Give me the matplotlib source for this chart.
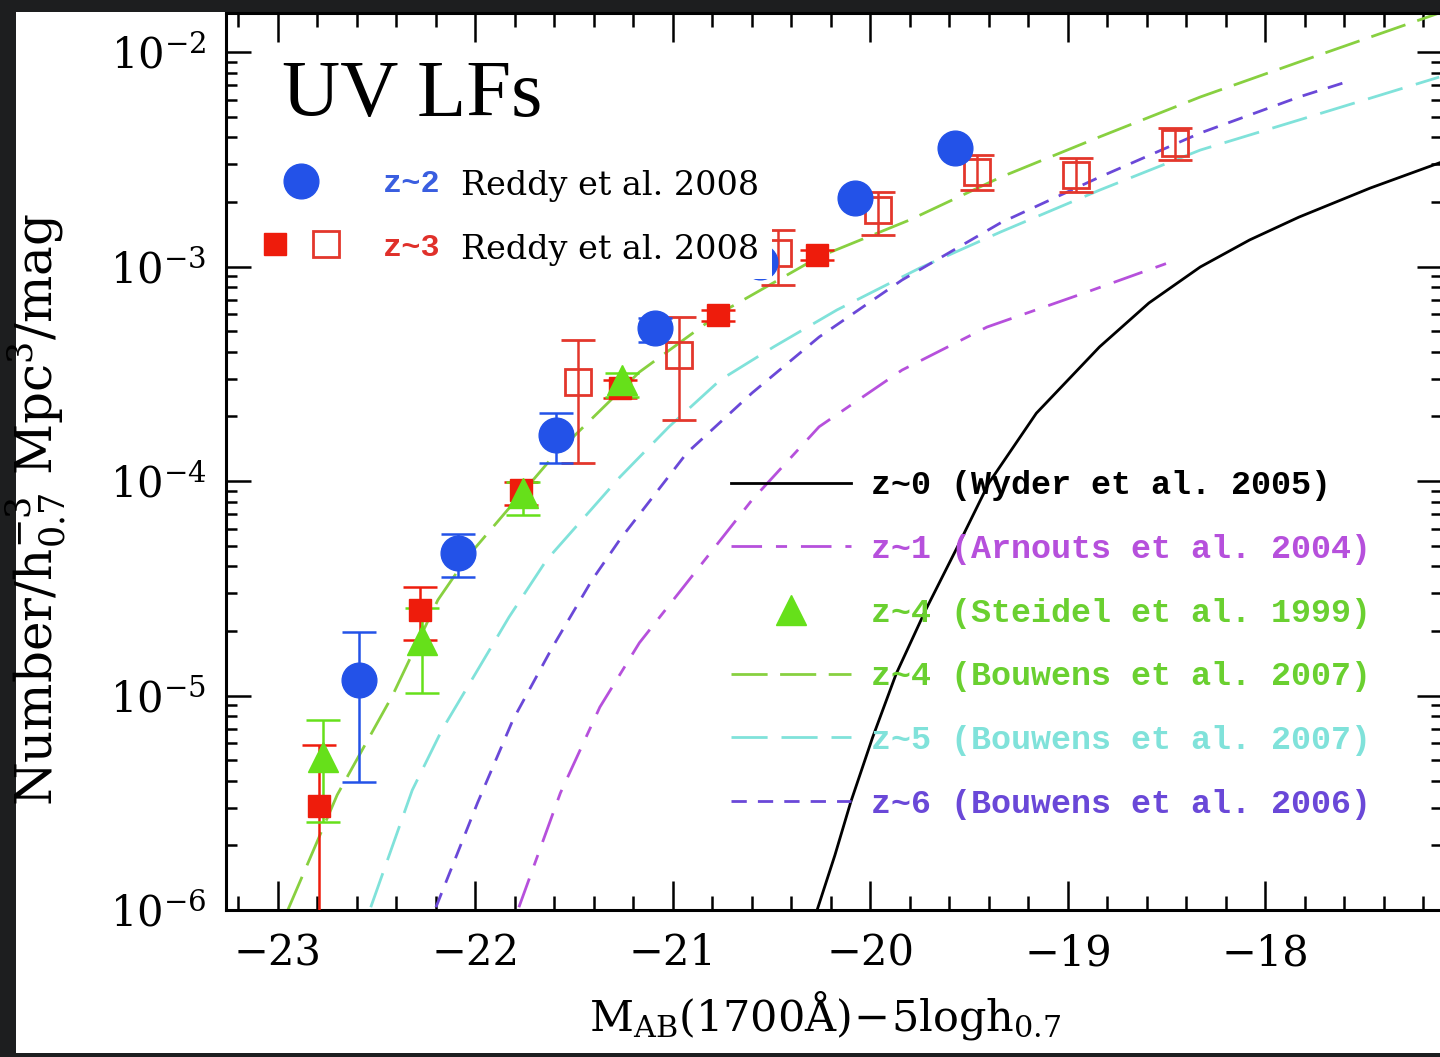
import matplotlib
matplotlib.use("Agg")
import matplotlib.pyplot as plt
from matplotlib.lines import Line2D
from matplotlib.patches import Rectangle
from matplotlib.legend_handler import HandlerTuple
from matplotlib.ticker import MultipleLocator, LogLocator, NullFormatter

plt.rcParams['font.family'] = ['DejaVu Serif']
plt.rcParams['mathtext.fontset'] = 'dejavuserif'
plt.rcParams['lines.scale_dashes'] = False

# --- data points (M_AB, phi, upper, lower) ---
z2_mag = [-22.59, -22.09, -21.59, -21.09, -20.56, -20.08, -19.57]
z2_phi = [1.18e-5, 4.61e-5, 1.64e-4, 5.16e-4, 1.05e-3, 2.08e-3, 3.56e-3]
z2_hi = [1.98e-5, 5.66e-5, 2.07e-4, 5.75e-4, 1.05e-3, 2.08e-3, 3.56e-3]
z2_lo = [3.95e-6, 3.56e-5, 1.21e-4, 4.45e-4, 1.05e-3, 2.08e-3, 3.56e-3]

z3f_mag = [-22.79, -22.28, -21.77, -21.27, -20.77, -20.27]
z3f_phi = [3.05e-6, 2.51e-5, 9.08e-5, 2.72e-4, 5.94e-4, 1.13e-3]
z3f_hi = [5.88e-6, 3.21e-5, 9.9e-5, 2.96e-4, 6.3e-4, 1.19e-3]
z3f_lo = [1e-7, 1.82e-5, 7.7e-5, 2.44e-4, 5.6e-4, 1.07e-3]

z3o_mag = [-21.48, -20.97, -20.47, -19.96, -19.46, -18.96, -18.46]
z3o_phi = [2.90e-4, 3.86e-4, 1.16e-3, 1.83e-3, 2.76e-3, 2.67e-3, 3.77e-3]
z3o_hi = [4.54e-4, 5.82e-4, 1.48e-3, 2.22e-3, 3.31e-3, 3.21e-3, 4.43e-3]
z3o_lo = [1.21e-4, 1.92e-4, 8.2e-4, 1.40e-3, 2.28e-3, 2.22e-3, 3.14e-3]

z4s_mag = [-22.77, -22.27, -21.76, -21.26]
z4s_phi = [5.16e-6, 1.82e-5, 8.8e-5, 2.96e-4]
z4s_hi = [7.69e-6, 2.56e-5, 9.9e-5, 3.2e-4]
z4s_lo = [2.57e-6, 1.03e-5, 6.93e-5, 2.47e-4]

# --- LF curves ---
z0_mag = [-20.27, -20.18, -20.10, -19.99, -19.87, -19.72, -19.56, -19.40, -19.16, -18.84,
          -18.59, -18.33, -18.08, -17.83, -17.47, -17.12]
z0_phi = [1.0e-6, 1.80e-6, 3.18e-6, 6.34e-6, 1.26e-5, 2.51e-5, 4.92e-5, 9.8e-5, 2.07e-4, 4.22e-4,
          6.76e-4, 9.95e-4, 1.33e-3, 1.70e-3, 2.32e-3, 3.04e-3]

z1_mag = [-21.78, -21.57, -21.37, -21.17, -20.97, -20.60, -20.26, -19.84, -19.41, -18.92, -18.48]
z1_phi = [1.03e-6, 3.51e-6, 8.83e-6, 1.76e-5, 3.01e-5, 8.15e-5, 1.79e-4, 3.29e-4, 5.22e-4, 7.51e-4, 1.05e-3]

z4_mag = [-22.95, -22.70, -22.42, -22.19, -22.04, -21.61, -21.17, -20.76, -20.26, -19.80, -19.34, -18.84, -18.33, -17.83, -17.12]
z4_phi = [1.0e-6, 3.44e-6, 1.0e-5, 2.79e-5, 4.43e-5, 1.29e-4, 3.22e-4, 6.07e-4, 1.11e-3, 1.65e-3, 2.61e-3, 4.02e-3, 6.17e-3, 8.98e-3, 1.52e-2]

z5_mag = [-22.53, -22.32, -22.17, -21.99, -21.83, -21.64, -21.27, -21.02, -20.76, -20.49, -20.17, -19.75, -19.34, -18.84, -18.33, -17.83, -17.12]
z5_phi = [1.03e-6, 3.62e-6, 6.9e-6, 1.31e-5, 2.32e-5, 4.28e-5, 1.04e-4, 1.79e-4, 2.96e-4, 4.22e-4, 6.27e-4, 9.84e-4, 1.45e-3, 2.27e-3, 3.49e-3, 4.82e-3, 7.64e-3]

z6_mag = [-22.20, -21.99, -21.81, -21.61, -21.41, -21.27, -20.93, -20.60, -20.26, -19.84, -19.34, -18.84, -18.33, -17.83, -17.56]
z6_phi = [1.03e-6, 3.15e-6, 7.7e-6, 1.68e-5, 3.45e-5, 5.31e-5, 1.35e-4, 2.57e-4, 4.69e-4, 8.65e-4, 1.60e-3, 2.61e-3, 4.19e-3, 6.17e-3, 7.40e-3]

curve_labels = ['z~0 (Wyder et al. 2005)', 'z~1 (Arnouts et al. 2004)',
                'z~4 (Steidel et al. 1999)', 'z~4 (Bouwens et al. 2007)',
                'z~5 (Bouwens et al. 2007)', 'z~6 (Bouwens et al. 2006)']

blue = '#2352e8'
red = '#ee1c0c'
red_open = '#e3372c'
green_pt = '#66e01a'
green = '#88d040'
cyan = '#80e2da'
purple = '#6a48d8'
magenta = '#b650dc'


def yerr(phi, lo, hi):
    return [[p - l for p, l in zip(phi, lo)], [h - p for p, h in zip(phi, hi)]]


fig = plt.figure(figsize=(14.4, 10.57), dpi=100, facecolor='#1d1e1f')
fig.patches.append(Rectangle((16 / 1440, 1 - 1053 / 1057), 1, (1053 - 12) / 1057,
                             transform=fig.transFigure, fc='white', ec='none', zorder=-10))
ax = fig.add_axes([226 / 1440, 1 - 910 / 1057, 1216 / 1440, 897 / 1057])
ax.set_facecolor('white')

lw = 2.0
l0, = ax.plot(z0_mag, z0_phi, color='black', lw=lw, zorder=2)
l1, = ax.plot(z1_mag, z1_phi, color=magenta, lw=lw, ls=(0, (22, 10, 8, 10)), zorder=2)
l4, = ax.plot(z4_mag, z4_phi, color=green, lw=lw, ls=(0, (26, 9)), zorder=2)
l5, = ax.plot(z5_mag, z5_phi, color=cyan, lw=lw, ls=(0, (26, 10)), zorder=2)
l6, = ax.plot(z6_mag, z6_phi, color=purple, lw=lw, ls=(0, (11, 8)), zorder=2)

ebkw = dict(ls='none', elinewidth=1.8, capthick=1.8, capsize=12, zorder=3)
ax.errorbar(z3o_mag, z3o_phi, yerr=yerr(z3o_phi, z3o_lo, z3o_hi), marker='s', ms=19,
            mfc='none', mec=red_open, mew=2, ecolor=red_open, **ebkw)
ax.errorbar(z3f_mag, z3f_phi, yerr=yerr(z3f_phi, z3f_lo, z3f_hi), marker='s', ms=16,
            color=red, ecolor=red, **ebkw)
ax.errorbar(z2_mag, z2_phi, yerr=yerr(z2_phi, z2_lo, z2_hi), marker='o', ms=25,
            color=blue, ecolor=blue, **ebkw)
ax.errorbar(z4s_mag, z4s_phi, yerr=yerr(z4s_phi, z4s_lo, z4s_hi), marker='^', ms=22,
            color=green_pt, ecolor=green_pt, **ebkw)

ax.set_yscale('log')
ax.set_xlim(-23.263, -17.106)
ax.set_ylim(1e-6, 1.52e-2)

ax.xaxis.set_major_locator(MultipleLocator(1))
ax.xaxis.set_minor_locator(MultipleLocator(0.2))
ax.yaxis.set_major_locator(LogLocator(base=10, numticks=10))
ax.yaxis.set_minor_locator(LogLocator(base=10, subs=range(2, 10), numticks=20))
ax.yaxis.set_minor_formatter(NullFormatter())
ax.tick_params(axis='both', which='both', direction='in', top=True, right=True, width=1.8)
ax.tick_params(axis='x', which='major', length=21, pad=16, labelsize=30)
ax.tick_params(axis='x', which='minor', length=10)
ax.tick_params(axis='y', which='major', length=18, pad=14, labelsize=30)
ax.tick_params(axis='y', which='minor', length=8)
for s in ax.spines.values():
    s.set_linewidth(2.2)

ax.set_xlabel(r'$\mathrm{M_{AB}(1700\AA)\!-\!5logh_{0.7}}$', fontsize=31)
ax.xaxis.set_label_coords(0.493, -0.088)
ax.set_ylabel(r'Number/$\mathrm{h_{0.7}^{-3}}$ Mpc$^3$/mag', fontsize=36)
ax.yaxis.set_label_coords(-0.13, 0.446)

ax.text(0.046, 0.948, 'UV LFs', transform=ax.transAxes, fontsize=58,
        family='Liberation Serif', va='top', ha='left')

# right-hand legend for curves + Steidel points
tri = Line2D([], [], ls='none', marker='^', ms=22, color=green_pt)
leg1 = ax.legend([l0, l1, tri, l4, l5, l6], curve_labels,
                 loc='upper left', bbox_to_anchor=(0.415, 0.490), frameon=False,
                 prop=dict(family='Liberation Mono', weight='bold', size=24),
                 labelcolor=['black', magenta, '#6ad030', '#6ad030', cyan, purple],
                 handlelength=3.6, handletextpad=0.6, labelspacing=0.98,
                 borderpad=0, borderaxespad=0)
ax.add_artist(leg1)

# upper-left legend for Reddy et al. data
circ = Line2D([], [], ls='none', marker='o', ms=25, color=blue)
sqf = Line2D([], [], ls='none', marker='s', ms=16, color=red)
sqo = Line2D([], [], ls='none', marker='s', ms=19, mfc='none', mec=red_open, mew=2)
leg2 = ax.legend([circ, (sqf, sqo)], ['z~2', 'z~3'],
                 handler_map={tuple: HandlerTuple(ndivide=None, pad=0)},
                 loc='upper left', bbox_to_anchor=(0.02, 0.826), frameon=False,
                 prop=dict(family='Liberation Mono', weight='bold', size=23),
                 labelcolor=['#3a5ee0', '#e0302a'],
                 handlelength=3.15, handletextpad=1.0, labelspacing=1.05,
                 borderpad=0, borderaxespad=0)

for yy in (0.807, 0.736):
    ax.text(0.193, yy, 'Reddy et al. 2008', transform=ax.transAxes, fontsize=24,
            family='DejaVu Serif', va='center', ha='left', zorder=6,
            bbox=dict(boxstyle='square,pad=0.4', fc='white', ec='none'))

fig.savefig('out.png', dpi=100, facecolor=fig.get_facecolor())
